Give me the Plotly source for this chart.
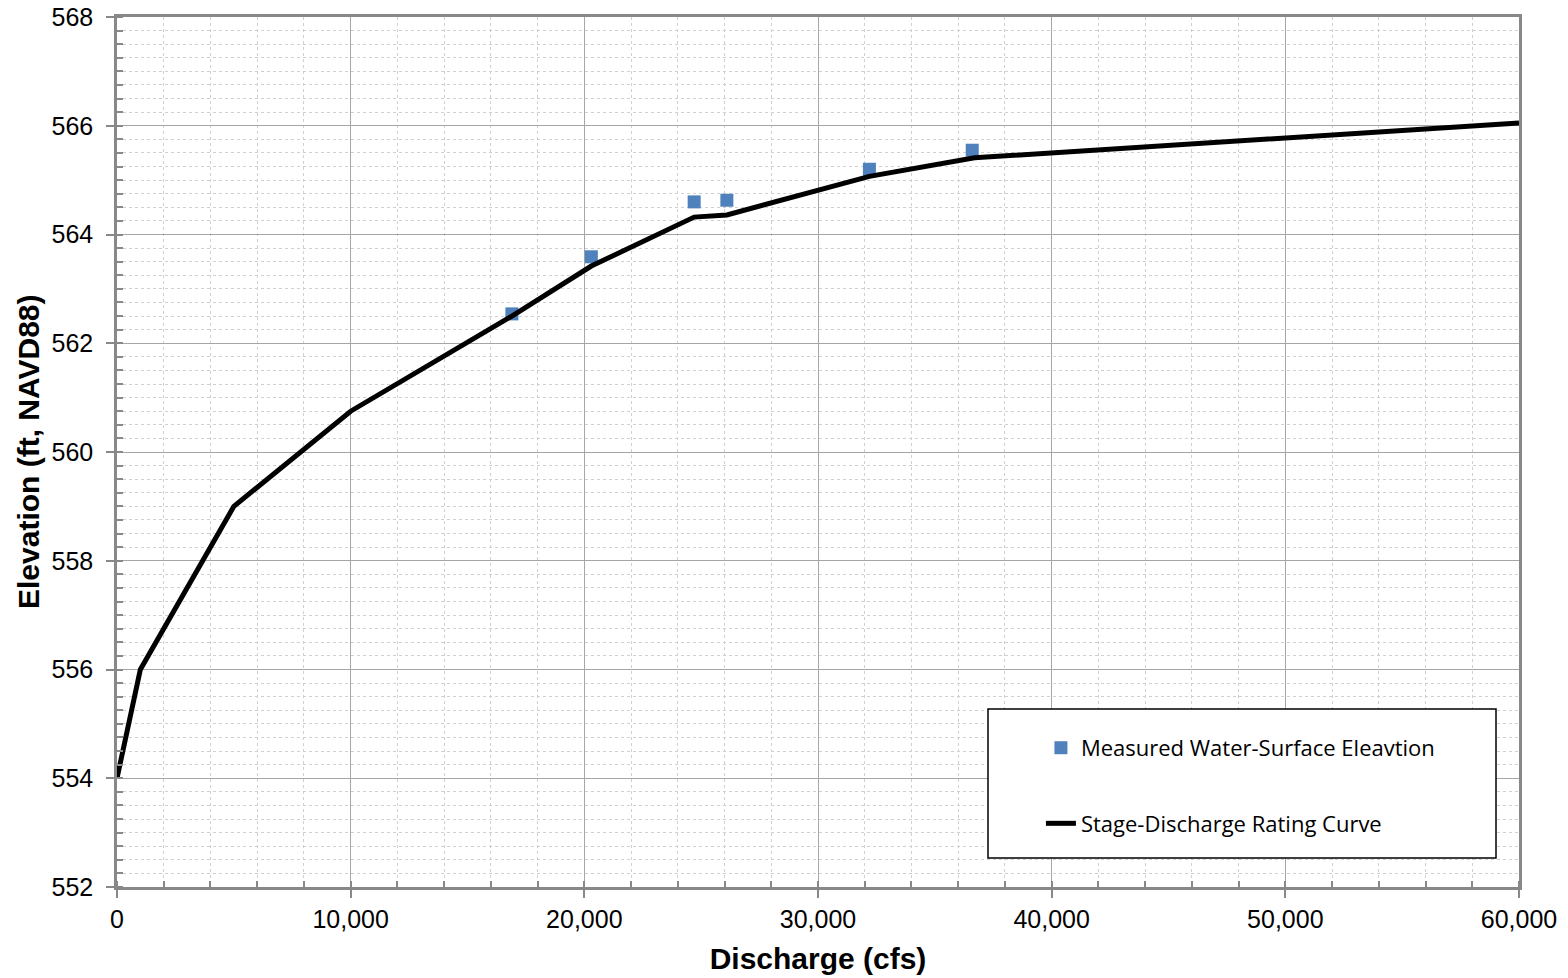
import plotly.graph_objects as go

# Rating curve
curve_q = [0, 1000, 5000, 10000, 16900, 20300, 24700, 26100, 32200, 36700, 60000]
curve_z = [554.0, 556.0, 559.0, 560.75, 562.5, 563.42, 564.32, 564.36, 565.07, 565.41, 566.05]

# Measured points
meas_q = [16900, 20300, 24700, 26100, 32200, 36600]
meas_z = [562.54, 563.59, 564.60, 564.63, 565.20, 565.55]

x_ticks = [0, 10000, 20000, 30000, 40000, 50000, 60000]
y_ticks = [552, 554, 556, 558, 560, 562, 564, 566, 568]

fig = go.Figure()
fig.add_trace(go.Scatter(
    x=meas_q, y=meas_z, mode="markers", name="Measured Water-Surface Eleavtion",
    marker=dict(symbol="square", size=13, color="#4F81BD"), legendgroup="a"))
fig.add_trace(go.Scatter(
    x=curve_q, y=curve_z, mode="lines", name="Stage-Discharge Rating Curve",
    line=dict(color="black", width=5), legendgroup="b"))

tick_font = dict(family="Liberation Sans, Arial", size=25, color="black")
title_font = dict(family="Liberation Sans, Arial", size=30, color="black")

fig.update_layout(
    width=1568, height=978,
    margin=dict(l=117, r=49, t=17, b=91, autoexpand=False),
    paper_bgcolor="white", plot_bgcolor="white",
    showlegend=True,
    legend=dict(x=0.659, y=0.184, xanchor="left", yanchor="top",
                bgcolor="rgba(0,0,0,0)", borderwidth=0,
                tracegroupgap=44,
                font=dict(family="Open Sans", size=22, color="black")),
    shapes=[dict(type="rect", xref="paper", yref="paper",
                 x0=(988-117)/1402, x1=(1496-117)/1402,
                 y0=(887-858)/870, y1=(887-709)/870,
                 line=dict(color="black", width=1.5), fillcolor="white", layer="above")],
    annotations=[dict(text="<b>Elevation (ft, NAVD88)</b>", font=title_font,
                      xref="paper", yref="paper", x=(28-117)/1402, y=0.5,
                      xanchor="center", yanchor="middle", textangle=-90,
                      showarrow=False)],
)

fig.update_xaxes(
    range=[0, 60000], tickvals=x_ticks, tickformat=",", automargin=False,
    showline=True, linecolor="#888888", linewidth=2.5, mirror=True,
    showgrid=True, gridcolor="#A6A6A6", gridwidth=1,
    ticks="outside", ticklen=8, tickcolor="#888888", tickwidth=2,
    tickfont=tick_font,
    title=dict(text="<b>Discharge (cfs)</b>", font=title_font, standoff=17),
    minor=dict(dtick=2000, showgrid=True, gridcolor="#D0D0D0", griddash="dot",
               ticks="inside", ticklen=6, tickcolor="#888888", tickwidth=1.5),
    zeroline=False,
)
fig.update_yaxes(
    range=[552, 568], tickvals=y_ticks, automargin=False,
    showline=True, linecolor="#888888", linewidth=2.5, mirror=True,
    showgrid=True, gridcolor="#A6A6A6", gridwidth=1,
    ticks="outside", ticklen=8, tickcolor="#888888", tickwidth=2,
    ticklabelstandoff=8,
    tickfont=tick_font,
    minor=dict(dtick=0.25, showgrid=True, gridcolor="#D0D0D0", griddash="dot",
               ticks="inside", ticklen=6, tickcolor="#888888", tickwidth=1.5),
    zeroline=False,
)

fig.write_html("out.html")
